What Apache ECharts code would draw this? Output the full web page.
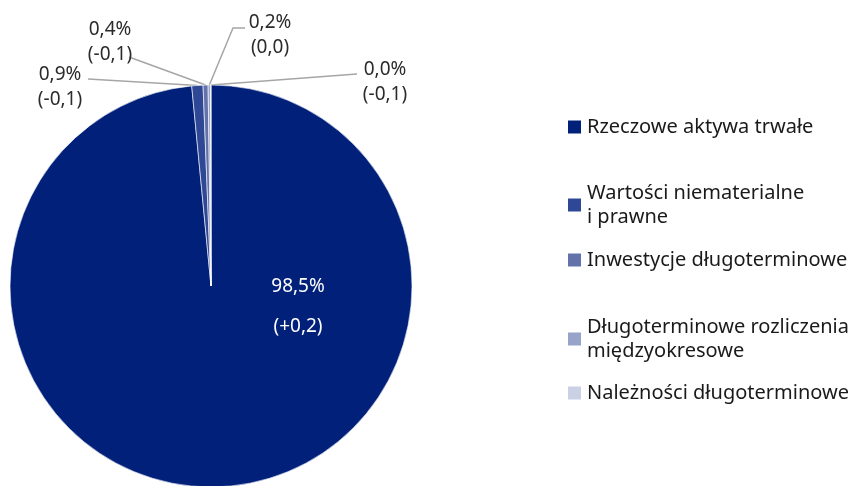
<!DOCTYPE html>
<html>
<head>
<meta charset="utf-8">
<script src="https://cdn.jsdelivr.net/npm/echarts@6/dist/echarts.min.js"></script>
<style>
html,body{margin:0;padding:0;background:#fff;}
#chart{width:858px;height:486px;}
</style>
</head>
<body>
<div id="chart"></div>
<script>
// ---- data ----
const categories = [
  'Rzeczowe aktywa trwałe',
  'Wartości niematerialne i prawne',
  'Inwestycje długoterminowe',
  'Długoterminowe rozliczenia międzyokresowe',
  'Należności długoterminowe'
];
const shares = [98.5, 0.9, 0.4, 0.2, 0.03];
const changes = ['+0,2', '-0,1', '-0,1', '0,0', '-0,1'];
const legendLines = [
  ['Rzeczowe aktywa trwałe'],
  ['Wartości niematerialne', 'i prawne'],
  ['Inwestycje długoterminowe'],
  ['Długoterminowe rozliczenia', 'międzyokresowe'],
  ['Należności długoterminowe']
];

// ---- styling / layout ----
const colors = ['#00207A', '#2F4896', '#6373A9', '#97A3C9', '#CBD1E4'];
const labelPos = [[298, 307], [60, 87], [110, 42], [270, 35], [385, 82]];
// where each leader line meets its label (extra bend for the 0,2% label)
const leaderEnds = [null, [[88, 79]], [[129, 57]], [[233, 28], [245, 28]], [[357, 74]]];
const legendTops = [115, 169, 248, 303, 381];
const FONT = '"Noto Sans", sans-serif';

const chart = echarts.init(document.getElementById('chart'));

const legends = categories.map((name, i) => {
  const two = legendLines[i].length > 1;
  return {
    orient: 'vertical',
    left: 566,
    top: legendTops[i],
    padding: 0,
    itemWidth: 15,
    itemHeight: 15,
    icon: 'rect',
    data: [name],
    selectedMode: false,
    formatter: () => legendLines[i].join('\n'),
    textStyle: {
      fontFamily: FONT,
      fontSize: 20,
      color: '#1a1a1a',
      lineHeight: 24,
      padding: two ? [24, 0, 0, 0] : 0
    }
  };
});

const data = categories.map((name, i) => ({
  name,
  value: shares[i],
  itemStyle: { color: colors[i] },
  label: i === 0 ? { color: '#ffffff', lineHeight: 40 } : {},
  labelLine: i === 0 ? { show: false } : {}
}));

chart.setOption({
  animation: false,
  legend: legends,
  series: [{
    type: 'pie',
    center: [211, 286],
    radius: [0, 201],
    startAngle: 90,
    clockwise: true,
    avoidLabelOverlap: false,
    data,
    itemStyle: { borderColor: '#ffffff', borderWidth: 0.6 },
    label: {
      show: true,
      position: 'outside',
      overflow: 'none',
      fontFamily: FONT,
      fontSize: 19,
      color: '#2b2b2b',
      lineHeight: 25,
      align: 'center',
      formatter: (p) => p.value.toFixed(1).replace('.', ',') + '%\n(' + changes[p.dataIndex] + ')'
    },
    labelLine: {
      show: true,
      length: 10,
      length2: 10,
      lineStyle: { color: '#A6A6A6', width: 1.5 }
    },
    labelLayout: (params) => {
      const i = params.dataIndex;
      const p = labelPos[i];
      const out = { x: p[0], y: p[1], align: 'center', verticalAlign: 'middle' };
      if (leaderEnds[i] && params.labelLinePoints) {
        out.labelLinePoints = [params.labelLinePoints[0]].concat(leaderEnds[i]);
      }
      return out;
    }
  }]
});
</script>
</body>
</html>
